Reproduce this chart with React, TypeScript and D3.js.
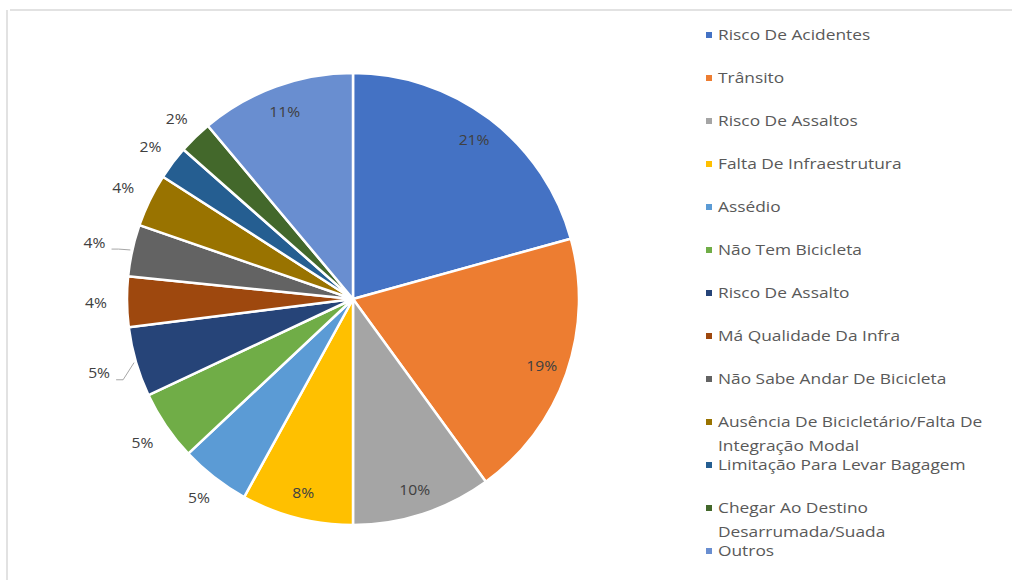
import React from "react";
import * as d3 from "d3";

const categories = [
  "Risco De Acidentes",
  "Trânsito",
  "Risco De Assaltos",
  "Falta De Infraestrutura",
  "Assédio",
  "Não Tem Bicicleta",
  "Risco De Assalto",
  "Má Qualidade Da Infra",
  "Não Sabe Andar De Bicicleta",
  "Ausência De Bicicletário/Falta De Integração Modal",
  "Limitação Para Levar Bagagem",
  "Chegar Ao Destino Desarrumada/Suada",
  "Outros",
];

const legendLines = [
  ["Risco De Acidentes"],
  ["Trânsito"],
  ["Risco De Assaltos"],
  ["Falta De Infraestrutura"],
  ["Assédio"],
  ["Não Tem Bicicleta"],
  ["Risco De Assalto"],
  ["Má Qualidade Da Infra"],
  ["Não Sabe Andar De Bicicleta"],
  ["Ausência De Bicicletário/Falta De", "Integração Modal"],
  ["Limitação Para Levar Bagagem"],
  ["Chegar Ao Destino", "Desarrumada/Suada"],
  ["Outros"],
];

const values = [20.7, 19.3, 10.0, 8.0, 5.0, 5.0, 5.0, 3.6, 3.7, 3.8, 2.4, 2.4, 11.1];

const colors = [
  "#4472C4", "#ED7D31", "#A5A5A5", "#FFC000", "#5B9BD5", "#70AD47",
  "#264478", "#9E480E", "#636363", "#997300", "#255E91", "#43682B", "#698ED0",
];

// which labels sit inside the slice, and which get a leader line
const insideLabel = [true, true, true, true, false, false, false, false, false, false, false, false, true];
const leaderLine = [false, false, false, false, false, false, true, false, true, false, false, false, false];

const W = 1012;
const H = 580;
const cx = 353;
const cy = 299;
const R = 226;
const FONT = "'Open Sans', 'Noto Sans', sans-serif";
const LEG_STRETCH = 1.24;
const LBL_STRETCH = 1.12;

export default function App() {
  const pie = d3.pie<number>().sort(null).value((d) => d).startAngle(0).endAngle(2 * Math.PI);
  const arcs = pie(values);
  const arcGen = d3.arc<d3.PieArcDatum<number>>().innerRadius(0).outerRadius(R);

  const legendY = d3.scaleLinear().domain([0, categories.length - 1]).range([35, 551]);

  const pctText = (key: string, x: number, y: number, label: string) => (
    <text
      key={key}
      transform={`translate(${x},${y}) scale(${LBL_STRETCH},1)`}
      textAnchor="middle"
      dominantBaseline="central"
      fontSize={14}
      fill="#404040"
    >
      {label}
    </text>
  );

  return (
    <svg
      width={W}
      height={H}
      style={{ position: "absolute", left: 0, top: 0, background: "#fff" }}
      fontFamily={FONT}
    >
      <line x1={7} y1={10} x2={7} y2={H} stroke="#d9d9d9" strokeWidth={1.5} />
      <line x1={10} y1={10} x2={W} y2={10} stroke="#d9d9d9" strokeWidth={1.5} />
      <g transform={`translate(${cx},${cy})`}>
        {arcs.map((a, i) => (
          <path key={i} d={arcGen(a) || ""} fill={colors[i]} stroke="#fff" strokeWidth={2.5} strokeLinejoin="round" />
        ))}
        {arcs.map((a, i) => {
          const mid = (a.startAngle + a.endAngle) / 2;
          const sx = Math.sin(mid);
          const sy = -Math.cos(mid);
          const label = Math.round(values[i]) + "%";
          if (insideLabel[i]) {
            const r = 200;
            return pctText("l" + i, r * sx, r * sy, label);
          }
          const r = 242 + 15 * Math.abs(sx) + (leaderLine[i] ? 8 : 0);
          const lx = r * sx;
          const ly = r * sy;
          const els: any[] = [pctText("l" + i, lx, ly, label)];
          if (leaderLine[i]) {
            const ex = (R + 2) * sx;
            const ey = (R + 2) * sy;
            const startX = lx + 17;
            const baseY = ly + 7;
            els.push(
              <polyline
                key={"ll" + i}
                points={`${startX},${baseY} ${startX + 7},${baseY} ${ex},${ey}`}
                fill="none"
                stroke="#a6a6a6"
                strokeWidth={1}
              />
            );
          }
          return <g key={"g" + i}>{els}</g>;
        })}
      </g>
      <g>
        {legendLines.map((lines, i) => (
          <g key={"lg" + i}>
            <rect x={706} y={legendY(i) - 3} width={6} height={6} fill={colors[i]} />
            {lines.map((t, j) => (
              <text
                key={j}
                transform={`translate(718,${legendY(i) + j * 24}) scale(${LEG_STRETCH},1)`}
                dominantBaseline="central"
                fontSize={14}
                fill="#595959"
              >
                {t}
              </text>
            ))}
          </g>
        ))}
      </g>
    </svg>
  );
}
